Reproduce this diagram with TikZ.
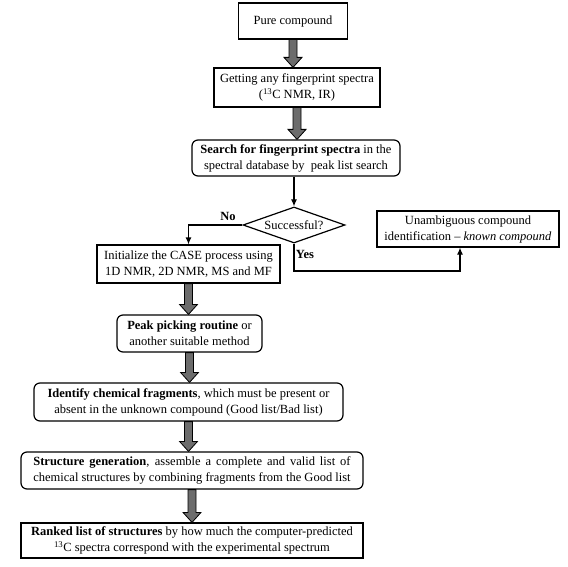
\documentclass[tikz,border=0pt]{standalone}
\usepackage{fontspec}
\setmainfont{Liberation Serif}
\usetikzlibrary{shapes.geometric,arrows.meta,calc}
\newlength\mylen
\tikzset{
  base/.style={draw, line width=1.2pt, inner sep=0pt, align=center,
    font=\fontsize{12.5}{16}\selectfont},
  sbox/.style={base},
  rbox/.style={base, rounded corners=6pt},
  thin/.style={line width=1.2pt},
  thinarr/.style={thin, -{Latex[length=7pt,width=6pt]}},
  fatarr/.style={draw=black, fill=gray!85!black, line width=0.8pt, line join=miter},
  lbl/.style={font=\fontsize{12.5}{14}\selectfont\bfseries, inner sep=0pt}
}
\newcommand\fatarrow[2]{%
  \path[fatarr] let \p1=(#1.south), \p2=(#2.north) in
    (\x1-4pt,\y1) -- (\x1-4pt,\y2+10pt) -- (\x1-9pt,\y2+10pt) -- (\x1,\y2)
    -- (\x1+9pt,\y2+10pt) -- (\x1+4pt,\y2+10pt) -- (\x1+4pt,\y1) -- cycle;}
\begin{document}
\begin{tikzpicture}[x=1pt,y=-1pt]
\useasboundingbox (0,0) rectangle (568,567);
\node[sbox, minimum width=109pt, minimum height=36pt] (pure) at (293,21) {Pure compound};
\node[sbox, minimum width=166pt, minimum height=39pt] (get) at (297,87.5)
  {Getting any fingerprint spectra\\(\textsuperscript{13}C NMR, IR)};
\node[rbox, minimum width=208pt, minimum height=36pt] (search) at (296,158)
  {\textbf{Search for fingerprint spectra} in the\\spectral database by\ \ peak list search};
\node[base, diamond, aspect=2.83, minimum width=102pt, minimum height=36pt] (dia) at (294,225) {Successful?};
\node[sbox, minimum width=183pt, minimum height=38pt] (init) at (188.5,264)
  {Initialize the CASE process using\\1D NMR, 2D NMR, MS and MF};
\node[sbox, minimum width=182pt, minimum height=36pt] (unamb) at (468,229)
  {Unambiguous compound\\identification -- \textit{known compound}};
\node[rbox, minimum width=145pt, minimum height=37pt] (peak) at (189.5,333.5)
  {\textbf{Peak picking routine} or\\another suitable method};
\node[rbox, minimum width=309pt, minimum height=38pt] (ident) at (188.5,402)
  {\textbf{Identify chemical fragments}, which must be present or\\absent in the unknown compound (Good list/Bad list)};
\node[rbox, minimum width=342pt, minimum height=37pt] (struct) at (192,470.5)
  {\settowidth{\mylen}{chemical structures by combining fragments from the Good list}%
   \makebox[\mylen][s]{\textbf{Structure generation}, assemble a complete and valid list of}\\
   chemical structures by combining fragments from the Good list};
\node[sbox, minimum width=342pt, minimum height=35pt] (ranked) at (192,540.5)
  {\textbf{Ranked list of structures} by how much the computer-predicted\\
   \textsuperscript{13}C spectra correspond with the experimental spectrum};
\fatarrow{pure}{get}
\fatarrow{get}{search}
\fatarrow{init}{peak}
\fatarrow{peak}{ident}
\fatarrow{ident}{struct}
\fatarrow{struct}{ranked}
\draw[thinarr] (search.south -| dia.north) -- (dia.north);
\coordinate (nocorner) at (init.north |- dia.west);
\draw[thinarr] (dia.west) -- (nocorner) -- (init.north);
\coordinate (yescorner) at (dia.south |- 0,271);
\coordinate (yesend) at (460,271);
\draw[thinarr] (dia.south) -- (yescorner) -- (yesend) -- (yesend |- unamb.south);
\node[lbl] (no) at (228,216) {No};
\node[lbl] (yes) at (305,254) {Yes};
\end{tikzpicture}
\end{document}
